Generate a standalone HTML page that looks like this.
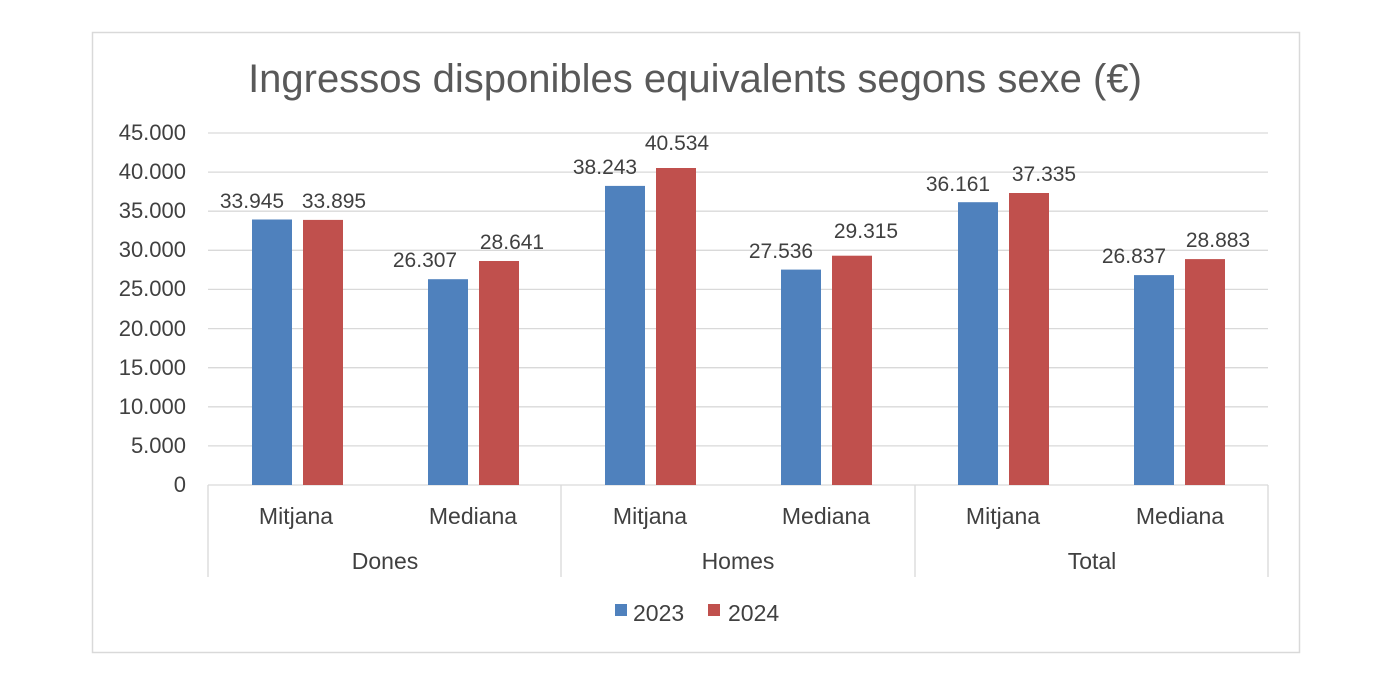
<!DOCTYPE html>
<html><head><meta charset="utf-8"><style>
html,body{margin:0;padding:0;background:#fff}
svg{display:block}
text{font-family:"Liberation Sans",sans-serif;fill:#404040}
</style></head><body>
<svg width="1380" height="682" viewBox="0 0 1380 682" xmlns="http://www.w3.org/2000/svg">
<rect x="92.5" y="32.5" width="1207" height="620" fill="#fff" stroke="#d9d9d9" stroke-width="1.5"/>
<text x="695" y="92" font-size="40" text-anchor="middle" style="fill:#595959">Ingressos disponibles equivalents segons sexe (€)</text>
<g stroke="#d9d9d9" stroke-width="1.3">
<line x1="208" y1="133" x2="1268" y2="133"/>
<line x1="208" y1="172.1" x2="1268" y2="172.1"/>
<line x1="208" y1="211.2" x2="1268" y2="211.2"/>
<line x1="208" y1="250.3" x2="1268" y2="250.3"/>
<line x1="208" y1="289.4" x2="1268" y2="289.4"/>
<line x1="208" y1="328.6" x2="1268" y2="328.6"/>
<line x1="208" y1="367.7" x2="1268" y2="367.7"/>
<line x1="208" y1="406.8" x2="1268" y2="406.8"/>
<line x1="208" y1="445.9" x2="1268" y2="445.9"/>
<line x1="208" y1="485" x2="1268" y2="485"/>
<line x1="208" y1="485" x2="208" y2="577"/>
<line x1="561" y1="485" x2="561" y2="577"/>
<line x1="915" y1="485" x2="915" y2="577"/>
<line x1="1268" y1="485" x2="1268" y2="577"/>
</g>
<g font-size="22" text-anchor="end">
<text x="186" y="140">45.000</text>
<text x="186" y="179">40.000</text>
<text x="186" y="218">35.000</text>
<text x="186" y="257">30.000</text>
<text x="186" y="296">25.000</text>
<text x="186" y="336">20.000</text>
<text x="186" y="375">15.000</text>
<text x="186" y="414">10.000</text>
<text x="186" y="453">5.000</text>
<text x="186" y="492">0</text>
</g>
<g>
<rect x="252" y="219.5" width="40" height="265.5" fill="#4F81BD"/>
<rect x="303" y="219.9" width="40" height="265.1" fill="#C0504D"/>
<rect x="428" y="279.2" width="40" height="205.8" fill="#4F81BD"/>
<rect x="479" y="261" width="40" height="224" fill="#C0504D"/>
<rect x="605" y="185.9" width="40" height="299.1" fill="#4F81BD"/>
<rect x="656" y="168" width="40" height="317" fill="#C0504D"/>
<rect x="781" y="269.6" width="40" height="215.4" fill="#4F81BD"/>
<rect x="832" y="255.7" width="40" height="229.3" fill="#C0504D"/>
<rect x="958" y="202.2" width="40" height="282.8" fill="#4F81BD"/>
<rect x="1009" y="193" width="40" height="292" fill="#C0504D"/>
<rect x="1134" y="275.1" width="40" height="209.9" fill="#4F81BD"/>
<rect x="1185" y="259.1" width="40" height="225.9" fill="#C0504D"/>
</g>
<g font-size="21" text-anchor="middle">
<text x="252" y="208">33.945</text>
<text x="334" y="208">33.895</text>
<text x="425" y="267">26.307</text>
<text x="512" y="249">28.641</text>
<text x="605" y="174">38.243</text>
<text x="677" y="150">40.534</text>
<text x="781" y="258">27.536</text>
<text x="866" y="238">29.315</text>
<text x="958" y="191">36.161</text>
<text x="1044" y="181">37.335</text>
<text x="1134" y="263">26.837</text>
<text x="1218" y="247">28.883</text>
</g>
<g font-size="23" text-anchor="middle">
<text x="296" y="524">Mitjana</text>
<text x="473" y="524">Mediana</text>
<text x="650" y="524">Mitjana</text>
<text x="826" y="524">Mediana</text>
<text x="1003" y="524">Mitjana</text>
<text x="1180" y="524">Mediana</text>
<text x="385" y="569">Dones</text>
<text x="738" y="569">Homes</text>
<text x="1092" y="569">Total</text>
</g>
<rect x="615" y="604" width="12" height="12" fill="#4F81BD"/>
<text x="633" y="621" font-size="23">2023</text>
<rect x="708" y="604" width="12" height="12" fill="#C0504D"/>
<text x="728" y="621" font-size="23">2024</text>
</svg>
</body></html>
